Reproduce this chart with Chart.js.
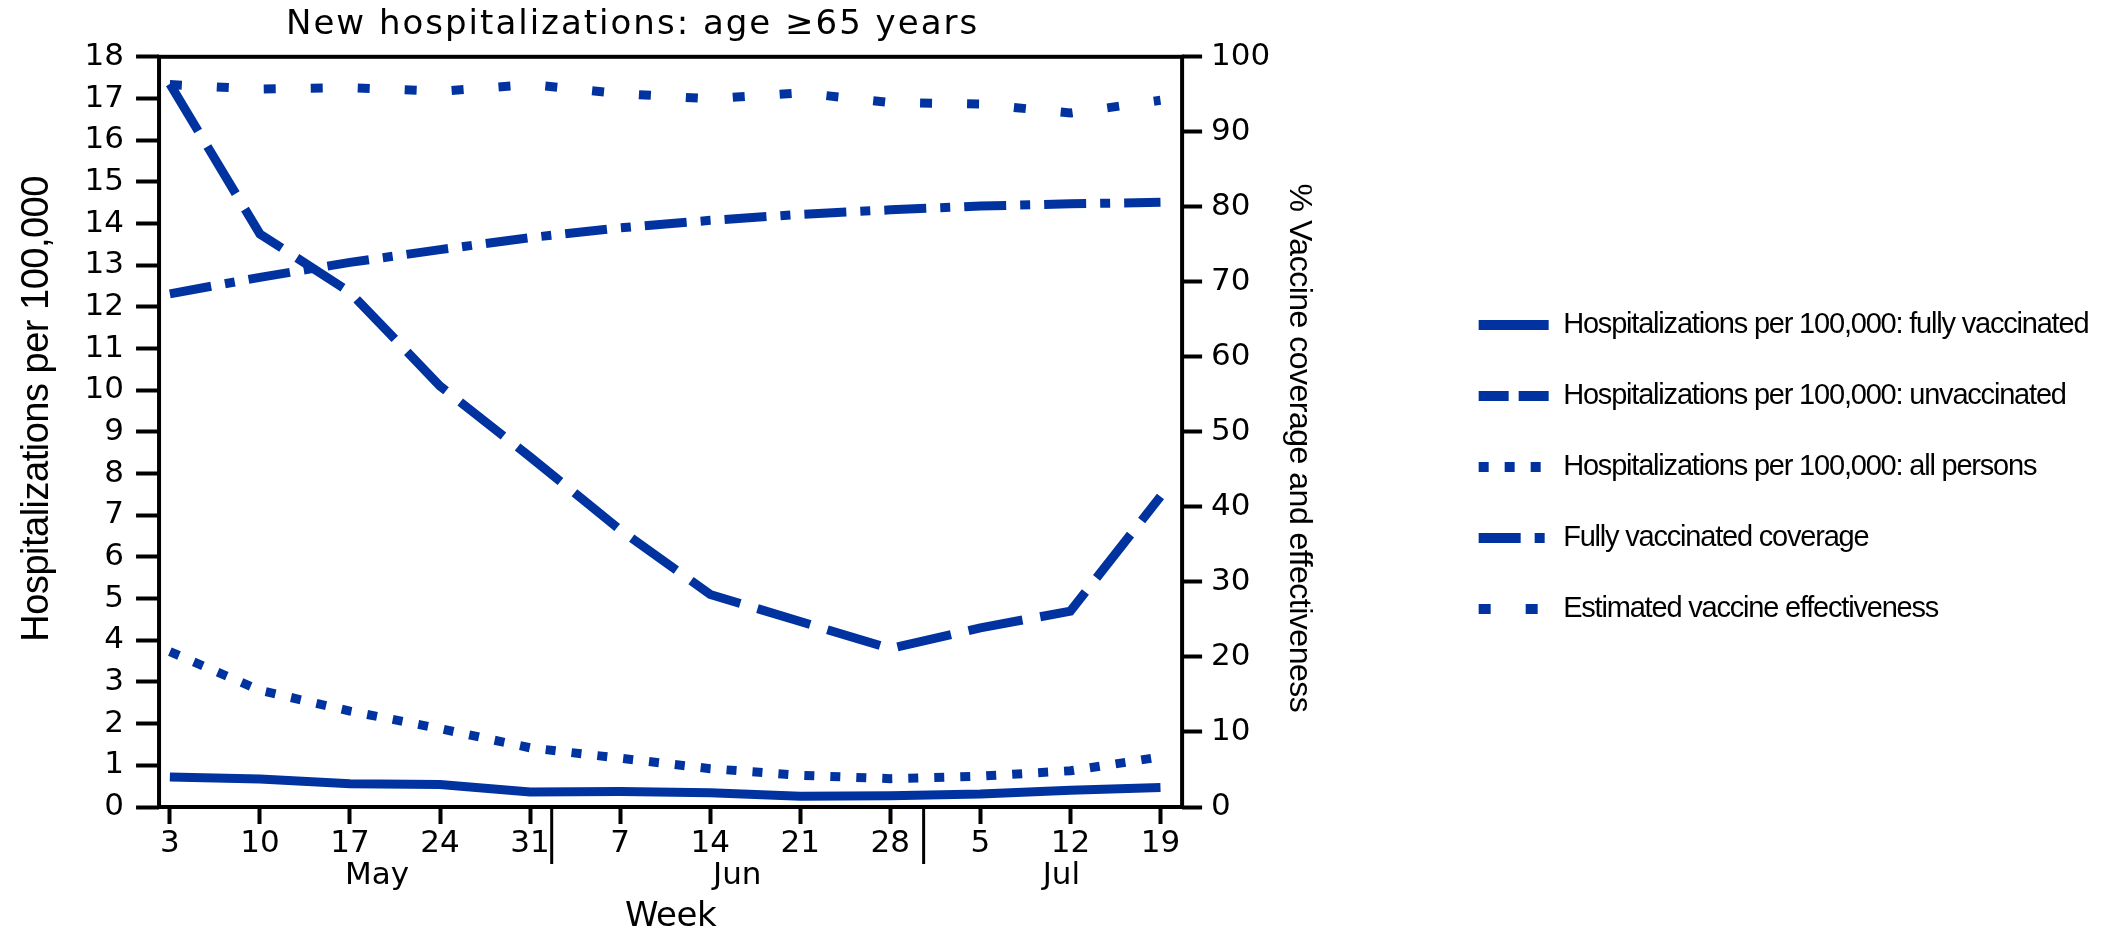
<!DOCTYPE html>
<html>
<head>
<meta charset="utf-8">
<script src="https://cdn.jsdelivr.net/npm/chart.js@4.4.1/dist/chart.umd.min.js"></script>
<style>
  html, body { margin: 0; padding: 0; background: #fff; }
  #wrap { width: 2113px; height: 934px; position: relative; }
</style>
</head>
<body>
<div id="wrap"><canvas id="grafico"></canvas></div>
<script>
// Semanas (dia del mes) y meses
var weeks = ['3', '10', '17', '24', '31', '7', '14', '21', '28', '5', '12', '19'];
var months = ['May', 'Jun', 'Jul'];
var monthAt = [2.3, 6.3, 9.9];       // posicion de la etiqueta del mes (indice de semana)
var monthBreaks = [4.24, 8.37];      // separadores entre meses

// Hospitalizaciones por 100,000 (eje izquierdo)
var fullyVaccinated = [0.72, 0.67, 0.56, 0.54, 0.36, 0.37, 0.34, 0.26, 0.27, 0.31, 0.40, 0.47];
var unvaccinated = [17.35, 13.75, 12.35, 10.1, 8.4, 6.65, 5.1, 4.45, 3.8, 4.3, 4.7, 7.45];
var allPersons = [3.73, 2.8, 2.3, 1.88, 1.42, 1.17, 0.92, 0.76, 0.68, 0.74, 0.87, 1.2];

// Cobertura y efectividad en % (eje derecho)
var coverage = [68.4, 70.6, 72.6, 74.3, 75.9, 77.2, 78.2, 79.0, 79.6, 80.1, 80.4, 80.6];
var effectiveness = [96.3, 95.7, 95.9, 95.4, 96.3, 95.1, 94.4, 95.2, 93.9, 93.7, 92.5, 94.2];

var blue = '#0033a0';
var sans = "'DejaVu Sans', sans-serif";
var narrow = "'Liberation Sans', Arial, sans-serif";

// Espaciado de letras (y desplazamiento) por elemento; Chart.js no tiene opcion para esto
function conEspaciado(proto, metodo, espacio, mover) {
  var original = proto[metodo];
  proto[metodo] = function() {
    var ctx = this.ctx;
    ctx.save();
    ctx.letterSpacing = espacio;
    if (mover) ctx.translate(0, mover(this));
    var r = original.apply(this, arguments);
    ctx.restore();
    return r;
  };
}
conEspaciado(Chart.Title._element.prototype, 'draw', '2px');
conEspaciado(Chart.Legend._element.prototype, 'draw', '-1.2px');
conEspaciado(Chart.Scale.prototype, 'drawTitle', '-0.5px', function(s) {
  return s.id === 'y' ? -23 : s.id === 'y1' ? 16 : 0;
});

function puntos(valores) {
  return valores.map(function(v, i) { return { x: i, y: v }; });
}

function serie(label, valores, eje, dash, dashLeyenda) {
  return {
    label: label,
    data: puntos(valores),
    yAxisID: eje,
    borderColor: blue,
    backgroundColor: blue,
    borderWidth: 9,
    borderDash: dash,
    legendDash: dashLeyenda,
    borderCapStyle: 'butt',
    pointRadius: 0,
    tension: 0,
    fill: false
  };
}

// Ajustes tras el layout: la leyenda usa todo el ancho a su derecha y el titulo se corre un poco
var ajustes = {
  id: 'ajustes',
  afterLayout: function(chart) {
    var lg = chart.legend;
    if (lg) {
      lg.right = chart.width;
      lg.width = lg.right - lg.left;
    }
    var t = chart.titleBlock;
    if (t) {
      t.left -= 38;
      t.right -= 38;
    }
  }
};

// Marco alrededor del area del grafico
var marco = {
  id: 'marco',
  beforeDatasetsDraw: function(chart) {
    var a = chart.chartArea, ctx = chart.ctx;
    ctx.save();
    ctx.strokeStyle = '#000';
    ctx.lineWidth = 4;
    ctx.strokeRect(a.left, a.top, a.right - a.left, a.bottom - a.top);
    ctx.restore();
  }
};

// Separadores y nombres de los meses bajo el eje x
var meses = {
  id: 'meses',
  afterDraw: function(chart) {
    var x = chart.scales.x, a = chart.chartArea, ctx = chart.ctx;
    ctx.save();
    ctx.strokeStyle = '#000';
    ctx.lineWidth = 3;
    monthBreaks.forEach(function(m) {
      var px = x.getPixelForValue(m);
      ctx.beginPath();
      ctx.moveTo(px, a.bottom);
      ctx.lineTo(px, a.bottom + 57);
      ctx.stroke();
    });
    ctx.fillStyle = '#000';
    ctx.font = '31px ' + sans;
    ctx.textAlign = 'center';
    ctx.textBaseline = 'middle';
    months.forEach(function(m, i) {
      ctx.fillText(m, x.getPixelForValue(monthAt[i]), a.bottom + 69);
    });
    ctx.restore();
  }
};

function marcas(largo) {
  return { display: true, drawOnChartArea: false, drawTicks: true, tickLength: largo, tickWidth: 4, tickColor: '#000' };
}

new Chart(document.getElementById('grafico').getContext('2d'), {
  type: 'line',
  data: {
    datasets: [
      serie('Hospitalizations per 100,000: fully vaccinated', fullyVaccinated, 'y', [], []),
      serie('Hospitalizations per 100,000: unvaccinated', unvaccinated, 'y', [55, 18], [30, 10]),
      serie('Hospitalizations per 100,000: all persons', allPersons, 'y', [10, 16], [10, 16]),
      serie('Fully vaccinated coverage', coverage, 'y1', [42, 14, 10, 14], [42, 14, 10, 14]),
      serie('Estimated vaccine effectiveness', effectiveness, 'y1', [12, 35], [12, 35])
    ]
  },
  options: {
    responsive: true,
    maintainAspectRatio: false,
    animation: false,
    layout: { padding: { left: 0, right: 389, top: 0, bottom: 0 } },
    plugins: {
      tooltip: { enabled: false },
      title: {
        display: true,
        fullSize: false,
        text: 'New hospitalizations: age \u226565 years',
        color: '#000',
        font: { family: sans, size: 34, weight: 'normal' },
        padding: { top: 5, bottom: 11 }
      },
      legend: {
        position: 'right',
        align: 'center',
        labels: {
          color: '#000',
          font: { family: narrow, size: 29 },
          usePointStyle: true,
          pointStyle: 'line',
          pointStyleWidth: 70,
          padding: 42,
          generateLabels: function(c) {
            var items = Chart.defaults.plugins.legend.labels.generateLabels(c);
            items.forEach(function(it) {
              var ds = c.data.datasets[it.datasetIndex];
              it.lineDash = ds.legendDash;
              it.lineWidth = 10;
              it.strokeStyle = ds.borderColor;
              it.fillStyle = ds.borderColor;
              it.lineCap = 'butt';
              it.pointStyle = 'line';
            });
            return items;
          }
        }
      }
    },
    scales: {
      x: {
        type: 'linear',
        min: -0.12,
        max: 11.24,
        afterBuildTicks: function(scale) {
          scale.ticks = weeks.map(function(w, i) { return { value: i }; });
        },
        ticks: {
          color: '#000',
          font: { family: sans, size: 31 },
          padding: 1,
          maxRotation: 0,
          autoSkip: false,
          callback: function(v) { return weeks[v]; }
        },
        grid: marcas(17),
        border: { display: false },
        title: {
          display: true,
          text: 'Week',
          color: '#000',
          font: { family: sans, size: 34 },
          padding: { top: 34, bottom: -4 }
        }
      },
      y: {
        position: 'left',
        min: 0,
        max: 18,
        ticks: { stepSize: 1, color: '#000', font: { family: sans, size: 31 }, padding: 12 },
        grid: marcas(23),
        border: { display: false },
        title: {
          display: true,
          text: 'Hospitalizations per 100,000',
          color: '#000',
          font: { family: narrow, size: 38 },
          padding: { top: 15, bottom: 12 }
        }
      },
      y1: {
        position: 'right',
        min: 0,
        max: 100,
        ticks: { stepSize: 10, color: '#000', font: { family: sans, size: 31 }, padding: 9 },
        grid: marcas(20),
        border: { display: false },
        title: {
          display: true,
          text: '% Vaccine coverage and effectiveness',
          color: '#000',
          font: { family: narrow, size: 32 },
          padding: { top: 119, bottom: 0 }
        }
      }
    }
  },
  plugins: [ajustes, marco, meses]
});
</script>
</body>
</html>
